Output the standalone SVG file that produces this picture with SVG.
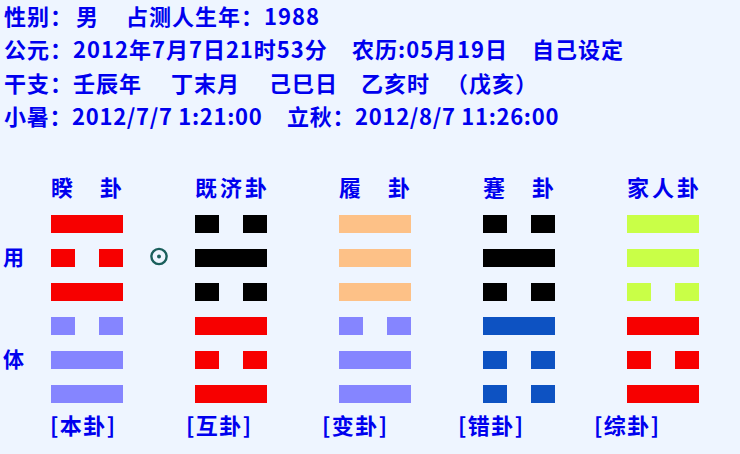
<svg xmlns="http://www.w3.org/2000/svg" xmlns:xlink="http://www.w3.org/1999/xlink" width="740" height="454" viewBox="0 0 740 454">
<style>
text{font-family:"Noto Sans CJK SC","Liberation Sans",sans-serif;font-weight:bold;fill:#0000ee}
.info{font-size:22px;letter-spacing:1px}
.title{font-size:22px;letter-spacing:3px}
.side{font-size:21px}
.lbl{font-size:22px;letter-spacing:1.5px}
.red{fill:#f70000}.lav{fill:#8585ff}.blk{fill:#000}.pch{fill:#fdc187}.blu{fill:#0d52c2}.lim{fill:#c9ff47}
</style>
<defs>
<g id="yang"><rect x="0" y="0" width="72" height="18"/></g>
<g id="yin"><rect x="0" y="0" width="24" height="18"/><rect x="48" y="0" width="24" height="18"/></g>
</defs>
<rect width="740" height="454" fill="#eef5ff"/>
<g id="info">
<text class="info" y="25"><tspan x="4">性别：</tspan><tspan x="76">男</tspan><tspan x="126">占测人生年：1988</tspan></text>
<text class="info" y="58"><tspan x="4">公元：2012年7月7日21时53分</tspan><tspan x="352">农历:05月19日</tspan><tspan x="532">自己设定</tspan></text>
<text class="info" y="92"><tspan x="4">干支：壬辰年</tspan><tspan x="171">丁末月</tspan><tspan x="269">己巳日</tspan><tspan x="361">乙亥时</tspan><tspan x="446">（戊亥）</tspan></text>
<text class="info" y="125" style="letter-spacing:0.7px"><tspan x="4">小暑：2012/7/7 1:21:00</tspan><tspan x="287">立秋：2012/8/7 11:26:00</tspan></text>
</g>
<g id="side">
<text class="side" x="3" y="265">用</text>
<text class="side" x="3" y="367">体</text>
<circle cx="159" cy="256.5" r="7.6" fill="none" stroke="#1a5f5c" stroke-width="2.4"/>
<circle cx="159" cy="256.5" r="2" fill="#1a5f5c"/>
</g>
<g id="hex-kui">
<text class="title" y="196"><tspan x="51">睽</tspan><tspan x="100">卦</tspan></text>
<use href="#yang" x="51" y="215" class="red"/>
<use href="#yin" x="51" y="249" class="red"/>
<use href="#yang" x="51" y="283" class="red"/>
<use href="#yin" x="51" y="317" class="lav"/>
<use href="#yang" x="51" y="351" class="lav"/>
<use href="#yang" x="51" y="385" class="lav"/>
<text class="lbl" x="50" y="434">[本卦]</text>
</g>
<g id="hex-jiji">
<text class="title" x="195" y="196">既济卦</text>
<use href="#yin" x="195" y="215" class="blk"/>
<use href="#yang" x="195" y="249" class="blk"/>
<use href="#yin" x="195" y="283" class="blk"/>
<use href="#yang" x="195" y="317" class="red"/>
<use href="#yin" x="195" y="351" class="red"/>
<use href="#yang" x="195" y="385" class="red"/>
<text class="lbl" x="186" y="434">[互卦]</text>
</g>
<g id="hex-lv">
<text class="title" y="196"><tspan x="339">履</tspan><tspan x="388">卦</tspan></text>
<use href="#yang" x="339" y="215" class="pch"/>
<use href="#yang" x="339" y="249" class="pch"/>
<use href="#yang" x="339" y="283" class="pch"/>
<use href="#yin" x="339" y="317" class="lav"/>
<use href="#yang" x="339" y="351" class="lav"/>
<use href="#yang" x="339" y="385" class="lav"/>
<text class="lbl" x="322" y="434">[变卦]</text>
</g>
<g id="hex-jian">
<text class="title" y="196"><tspan x="483">蹇</tspan><tspan x="532">卦</tspan></text>
<use href="#yin" x="483" y="215" class="blk"/>
<use href="#yang" x="483" y="249" class="blk"/>
<use href="#yin" x="483" y="283" class="blk"/>
<use href="#yang" x="483" y="317" class="blu"/>
<use href="#yin" x="483" y="351" class="blu"/>
<use href="#yin" x="483" y="385" class="blu"/>
<text class="lbl" x="458" y="434">[错卦]</text>
</g>
<g id="hex-jiaren">
<text class="title" x="627" y="196">家人卦</text>
<use href="#yang" x="627" y="215" class="lim"/>
<use href="#yang" x="627" y="249" class="lim"/>
<use href="#yin" x="627" y="283" class="lim"/>
<use href="#yang" x="627" y="317" class="red"/>
<use href="#yin" x="627" y="351" class="red"/>
<use href="#yang" x="627" y="385" class="red"/>
<text class="lbl" x="594" y="434">[综卦]</text>
</g>
<g id="connectors"/>
</svg>
